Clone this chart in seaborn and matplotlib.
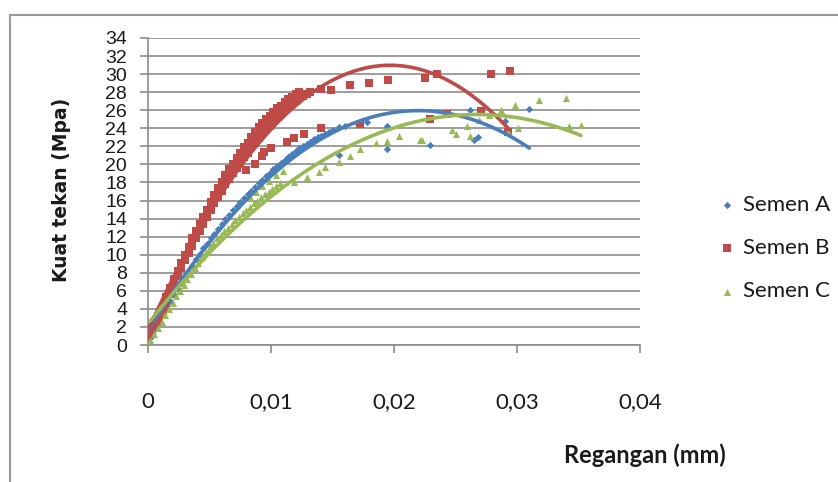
import numpy as np
import pandas as pd
import matplotlib
matplotlib.use("Agg")
import matplotlib.pyplot as plt
import seaborn as sns
from matplotlib.patches import Rectangle

# Semen A (blue diamonds): dense loading stream, then scattered readings
a_x = [0.0000, 0.0003, 0.0006, 0.0009, 0.0012, 0.0015, 0.0018, 0.0021, 0.0024, 0.0027,
       0.0030, 0.0033, 0.0036, 0.0039, 0.0042, 0.0045, 0.0048, 0.0051, 0.0054, 0.0057,
       0.0060, 0.0063, 0.0066, 0.0069, 0.0072, 0.0075, 0.0078, 0.0081, 0.0084, 0.0087,
       0.0090, 0.0093, 0.0096, 0.0099, 0.0102, 0.0105, 0.0108, 0.0111, 0.0114, 0.0117,
       0.0120, 0.0123, 0.0126, 0.0129, 0.0132, 0.0135, 0.0138, 0.0141, 0.0144, 0.0147,
       0.0150, 0.0155, 0.0160, 0.0170, 0.0178,
       0.0155, 0.0194, 0.0194, 0.0229, 0.0262, 0.0265, 0.0268, 0.0290, 0.0310]
a_y = [2.0, 1.0, 1.8, 2.6, 3.4, 4.1, 4.9, 5.6, 6.2, 6.9,
       7.6, 8.2, 8.8, 9.5, 10.1, 10.7, 11.2, 11.8, 12.3, 12.9,
       13.4, 13.9, 14.4, 14.9, 15.4, 15.8, 16.3, 16.7, 17.1, 17.5,
       17.9, 18.3, 18.7, 19.1, 19.5, 19.8, 20.2, 20.5, 20.8, 21.2,
       21.5, 21.8, 22.0, 22.3, 22.5, 22.8, 23.0, 23.2, 23.4, 23.6,
       23.8, 24.1, 24.3, 24.6, 24.7,
       21.0, 24.2, 21.7, 22.1, 26.0, 22.7, 23.0, 24.8, 26.1]

# Semen B (red squares): two dense streams, lower arm, upper arm
b_x = [0.0000, 0.0003, 0.0006, 0.0009, 0.0012, 0.0015, 0.0018, 0.0021, 0.0024, 0.0027,
       0.0030, 0.0033, 0.0036, 0.0039, 0.0042, 0.0045, 0.0048, 0.0051, 0.0054, 0.0057,
       0.0060, 0.0063, 0.0066, 0.0069, 0.0072, 0.0075, 0.0078, 0.0081, 0.0084, 0.0087,
       0.0090, 0.0093, 0.0096, 0.0099, 0.0102, 0.0105, 0.0108, 0.0111, 0.0114, 0.0117,
       0.0120, 0.0123,
       0.0009, 0.0012, 0.0015, 0.0018, 0.0021, 0.0024, 0.0027, 0.0030, 0.0033, 0.0036,
       0.0039, 0.0042, 0.0045, 0.0048, 0.0051, 0.0054, 0.0057, 0.0060, 0.0063, 0.0066,
       0.0069, 0.0072, 0.0075, 0.0078, 0.0081, 0.0084, 0.0087, 0.0090, 0.0093, 0.0096,
       0.0099, 0.0102, 0.0105, 0.0108, 0.0111, 0.0114, 0.0117, 0.0120, 0.0123, 0.0126,
       0.0129, 0.0132,
       0.0080, 0.0087, 0.0093, 0.0094, 0.0100, 0.0113, 0.0119, 0.0127, 0.0141, 0.0172,
       0.0229, 0.0243, 0.0271, 0.0293,
       0.0141, 0.0149, 0.0164, 0.0180, 0.0195, 0.0225, 0.0235, 0.0279, 0.0294]
b_y = [0.5, 1.4, 2.3, 3.3, 4.3, 5.3, 6.3, 7.3, 8.2, 9.1,
       10.0, 10.9, 11.8, 12.6, 13.4, 14.2, 15.0, 15.8, 16.6, 17.4,
       18.1, 18.8, 19.5, 20.1, 20.7, 21.3, 21.9, 22.4, 23.0, 23.6,
       24.1, 24.6, 25.0, 25.4, 25.8, 26.2, 26.5, 26.9, 27.2, 27.5,
       27.8, 28.0,
       2.6, 3.6, 4.6, 5.6, 6.6, 7.6, 8.5, 9.4, 10.2, 11.0,
       11.8, 12.6, 13.4, 14.2, 15.0, 15.7, 16.4, 17.1, 17.8, 18.4,
       19.0, 19.6, 20.2, 20.8, 21.3, 21.9, 22.4, 22.9, 23.4, 23.9,
       24.3, 24.8, 25.2, 25.6, 26.0, 26.4, 26.7, 27.0, 27.3, 27.6,
       27.8, 28.0,
       19.4, 20.1, 20.9, 21.4, 21.8, 22.5, 22.9, 23.4, 24.0, 24.5,
       25.0, 25.6, 25.9, 23.6,
       28.4, 28.2, 28.8, 29.0, 29.4, 29.6, 30.0, 30.0, 30.3]

# Semen C (green triangles)
c_x = [0.0002, 0.0005, 0.0008, 0.0011, 0.0014, 0.0017, 0.0020, 0.0023, 0.0026, 0.0029,
       0.0032, 0.0035, 0.0038, 0.0041, 0.0044, 0.0047, 0.0050, 0.0053, 0.0056, 0.0059,
       0.0062, 0.0065, 0.0068, 0.0071, 0.0074, 0.0077, 0.0080, 0.0083, 0.0086, 0.0089,
       0.0092, 0.0095, 0.0098, 0.0101, 0.0104, 0.0107,
       0.0083, 0.0088, 0.0093, 0.0098, 0.0104, 0.0110,
       0.0119, 0.0129, 0.0139, 0.0144, 0.0155, 0.0164, 0.0172, 0.0185, 0.0194, 0.0204,
       0.0221, 0.0223, 0.0247, 0.0250, 0.0259, 0.0262, 0.0269, 0.0277, 0.0287, 0.0293,
       0.0298, 0.0301, 0.0318, 0.0340, 0.0342, 0.0352]
c_y = [0.5, 1.2, 1.9, 2.6, 3.3, 4.0, 4.7, 5.4, 6.0, 6.7,
       7.3, 7.9, 8.5, 9.1, 9.7, 10.3, 10.8, 11.3, 11.8, 12.2,
       12.6, 13.0, 13.4, 13.8, 14.2, 14.6, 15.0, 15.3, 15.7, 16.0,
       16.4, 16.7, 17.0, 17.3, 17.6, 17.9,
       16.4, 16.9, 17.6, 18.2, 18.8, 19.3,
       18.1, 18.6, 19.2, 19.7, 20.3, 20.9, 21.7, 22.4, 22.6, 23.1,
       22.7, 22.7, 23.8, 23.4, 24.2, 23.1, 24.9, 25.5, 26.0, 23.7,
       26.6, 24.0, 27.1, 27.4, 24.2, 24.4]

series_names = ["Semen A", "Semen B", "Semen C"]
x_ticks = [0, 0.01, 0.02, 0.03, 0.04]
x_tick_labels = ["0", "0,01", "0,02", "0,03", "0,04"]
y_ticks = list(range(0, 35, 2))

colors = {"Semen A": "#4A7EBB", "Semen B": "#BE4B48", "Semen C": "#98B954"}
markers = {"Semen A": "D", "Semen B": "s", "Semen C": "^"}
sizes = {"Semen A": 14, "Semen B": 26, "Semen C": 26}

df = pd.concat([
    pd.DataFrame({"x": a_x, "y": a_y, "seri": "Semen A"}),
    pd.DataFrame({"x": b_x, "y": b_y, "seri": "Semen B"}),
    pd.DataFrame({"x": c_x, "y": c_y, "seri": "Semen C"}),
])

sns.set_style("white")
plt.rcParams["font.family"] = ["Lato", "DejaVu Sans"]

fig = plt.figure(figsize=(8.38, 4.82), dpi=100)
ax = fig.add_axes([148 / 838, 137 / 482, 492 / 838, 307 / 482])

for name in series_names:
    sub = df[df["seri"] == name]
    ax.scatter(sub["x"], sub["y"], marker=markers[name], s=sizes[name],
               color=colors[name], linewidths=0, label=name, zorder=3)

# second-order polynomial trendlines
for name in series_names:
    sub = df[df["seri"] == name]
    sns.regplot(data=sub, x="x", y="y", order=2, ci=None, scatter=False, ax=ax,
                color=colors[name], line_kws={"lw": 2.6, "zorder": 4})

ax.set_xlim(0, 0.04)
ax.set_ylim(0, 34)
ax.set_xticks(x_ticks)
ax.set_xticklabels(x_tick_labels, fontsize=16)
ax.set_yticks(y_ticks)
ax.set_yticklabels([str(v) for v in y_ticks], fontsize=14,
                   family=["Liberation Sans Narrow", "Liberation Sans"])
ax.yaxis.grid(True, color="#8c8c8c", lw=1.2)
ax.xaxis.grid(False)
ax.set_axisbelow(True)

for side in ["top", "right"]:
    ax.spines[side].set_visible(False)
for side in ["left", "bottom"]:
    ax.spines[side].set_color("#8c8c8c")
    ax.spines[side].set_linewidth(1.2)

ax.tick_params(axis="x", direction="out", length=6, color="#8c8c8c", width=1.2,
               pad=28, labelcolor="#1a1a1a", bottom=True)
ax.tick_params(axis="y", direction="out", length=6, color="#8c8c8c", width=1.2,
               pad=9, labelcolor="#1a1a1a", left=True)

ax.set_xlabel("")
ax.set_ylabel("")
ax.text(1.01, -0.358, "Regangan (mm)", transform=ax.transAxes, ha="center", va="center",
        fontsize=17, fontweight="bold", color="#1a1a1a")
ax.text(-0.175, 0.505, "Kuat tekan (Mpa)", transform=ax.transAxes, ha="center", va="center",
        rotation=90, fontsize=13.5, fontweight="bold", color="#1a1a1a",
        family="DejaVu Sans")

leg = ax.legend(loc="center left", bbox_to_anchor=(696 / 838, (482 - 248) / 482),
                bbox_transform=fig.transFigure, frameon=False, fontsize=16,
                labelspacing=1.05, handletextpad=0.2, handlelength=1.0,
                markerscale=1.0)
for t in leg.get_texts():
    t.set_color("#1a1a1a")

fig.patches.append(Rectangle((10 / 838, -0.05), 1.1, 0.05 + 467 / 482,
                             transform=fig.transFigure, fill=False,
                             edgecolor="#9a9a9a", lw=1.5, zorder=0))

fig.savefig("out.png", dpi=100)
